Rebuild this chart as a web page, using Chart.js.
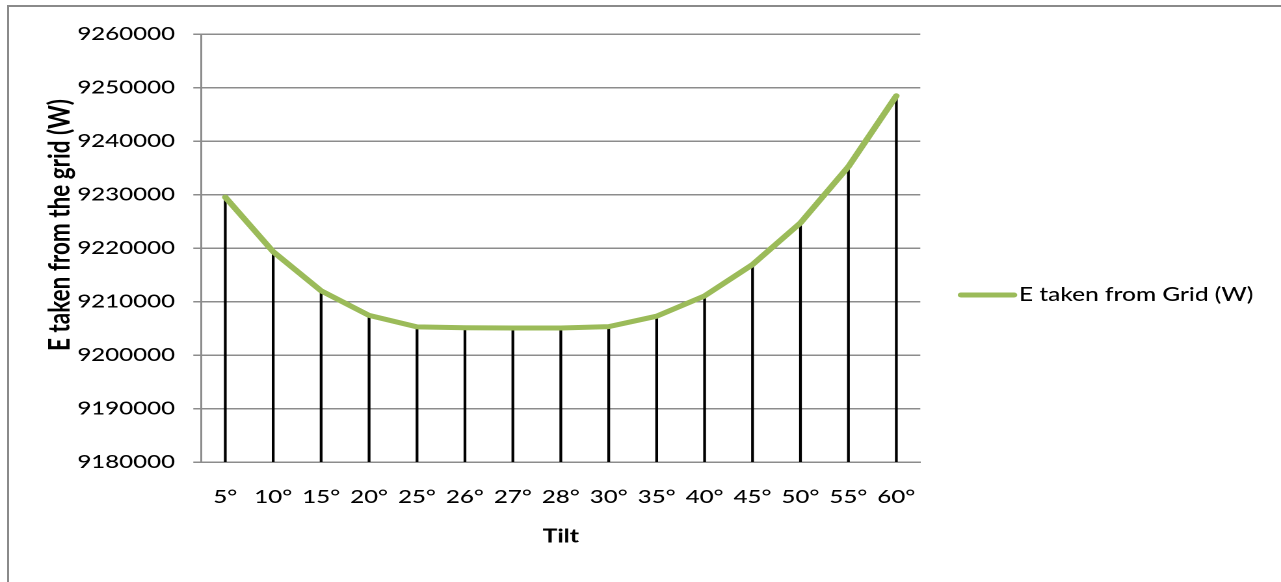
<!DOCTYPE html>
<html>
<head>
<meta charset="utf-8">
<title>E taken from the grid vs tilt</title>
<script src="https://cdn.jsdelivr.net/npm/chart.js@4/dist/chart.umd.min.js"></script>
<style>
  html, body { margin: 0; padding: 0; background: #ffffff; overflow: hidden; }
  #wrap { position: relative; width: 1281px; height: 582px; overflow: hidden; }
  #frame {
    position: absolute; left: 7px; top: 5px; width: 1400px; height: 700px;
    border-left: 2px solid #8a8a8a; border-top: 2px solid #8a8a8a; box-sizing: border-box;
  }
  #c { position: absolute; left: 0; top: 0; transform-origin: 0 0; }
</style>
</head>
<body>
<div id="wrap">
  <div id="frame"></div>
  <canvas id="c"></canvas>
</div>
<script>
// Tilt angles on the category axis
const tiltLabels = ['5°', '10°', '15°', '20°', '25°', '26°', '27°', '28°', '30°', '35°', '40°', '45°', '50°', '55°', '60°'];
// Energy drawn from the grid for each tilt (W)
const gridEnergy = [9229500, 9219300, 9212000, 9207400, 9205250, 9205100, 9205050, 9205050, 9205300, 9207250, 9211050, 9216900, 9224700, 9235200, 9248450];
// Value-axis labels, bottom to top
const yTickLabels = ['9180000', '9190000', '9200000', '9210000', '9220000', '9230000', '9240000', '9250000', '9260000'];
const seriesName = 'E taken from Grid (W)';
const yTitle = 'E taken from the grid (W)';
const xTitle = 'Tilt';

// The drawing is laid out on a narrower canvas and widened horizontally.
const PAGE_W = 1281, PAGE_H = 582;
const SX = 1.3;
const CW = Math.round(PAGE_W / SX);
const sx = PAGE_W / CW;
const px = x => x / sx;            // page x -> canvas x

const AREA_LEFT = px(201.3), AREA_RIGHT = px(920.3);
const AREA_TOP = 34, AREA_BOTTOM = 462;
const GREEN = '#9bbb59';
const GRID = '#8c8c8c';
const FONT = 'Lato, "Open Sans", sans-serif';

// Rotated value-axis title
const yTitlePlugin = {
  id: 'yTitle',
  afterDraw(chart) {
    const ctx = chart.ctx;
    ctx.save();
    ctx.translate(px(60), 225);
    ctx.rotate(-Math.PI / 2);
    ctx.font = 'bold 22.5px ' + FONT;
    ctx.fillStyle = '#000';
    ctx.textAlign = 'center';
    ctx.textBaseline = 'middle';
    ctx.fillText(yTitle, 0, 0);
    ctx.restore();
  }
};

// Single-entry legend to the right of the plot
const legendPlugin = {
  id: 'sideLegend',
  afterDraw(chart) {
    const ctx = chart.ctx;
    const ds = chart.data.datasets[0];
    const y = 295;
    ctx.save();
    ctx.strokeStyle = ds.borderColor;
    ctx.lineWidth = 5;
    ctx.lineCap = 'round';
    ctx.beginPath();
    ctx.moveTo(px(961), y);
    ctx.lineTo(px(1014), y);
    ctx.stroke();
    ctx.font = '500 18.8px ' + FONT;
    ctx.fillStyle = '#000';
    ctx.textAlign = 'left';
    ctx.textBaseline = 'middle';
    ctx.fillText(ds.label, px(1019), y);
    ctx.restore();
  }
};

function draw() {
  const canvas = document.getElementById('c');
  canvas.width = CW;
  canvas.height = PAGE_H;
  canvas.style.width = CW + 'px';
  canvas.style.height = PAGE_H + 'px';
  canvas.style.transform = 'scale(' + sx + ',1)';

  Chart.defaults.font.family = FONT;
  Chart.defaults.color = '#000';

  new Chart(canvas, {
    data: {
      labels: tiltLabels,
      datasets: [
        {
          type: 'line',
          label: seriesName,
          data: gridEnergy,
          borderColor: GREEN,
          backgroundColor: GREEN,
          borderWidth: 5,
          borderCapStyle: 'round',
          borderJoinStyle: 'round',
          pointRadius: 0,
          tension: 0,
          order: 0
        },
        {
          // drop lines from each point to the category axis
          type: 'bar',
          label: 'drop',
          data: gridEnergy,
          backgroundColor: '#000',
          barThickness: 1.5,
          grouped: false,
          order: 1
        }
      ]
    },
    options: {
      responsive: false,
      animation: false,
      devicePixelRatio: 2,
      layout: { padding: { top: AREA_TOP, left: 0, bottom: 0, right: CW - AREA_RIGHT } },
      plugins: { legend: { display: false }, tooltip: { enabled: false } },
      events: [],
      scales: {
        x: {
          type: 'category',
          offset: true,
          grid: { display: false, drawTicks: false, tickLength: 0 },
          border: { display: true, color: GRID, width: 1.5 },
          ticks: { font: { size: 18.5, weight: 500 }, color: '#000', padding: 24, maxRotation: 0, autoSkip: false },
          title: { display: true, text: xTitle, font: { size: 19, weight: 'bold' }, color: '#000', padding: { top: 0, bottom: 34 } },
          afterFit(scale) { scale.height = PAGE_H - AREA_BOTTOM; }
        },
        y: {
          type: 'linear',
          min: 9180000,
          max: 9260000,
          grid: { color: GRID, lineWidth: 1.5, drawTicks: true, tickLength: px(8) },
          border: { display: true, color: GRID, width: 1.5 },
          ticks: {
            stepSize: 10000,
            font: { size: 18.5, weight: 500 },
            color: '#000',
            padding: AREA_LEFT - px(8) - px(175),
            callback: (v, i) => yTickLabels[i]
          },
          afterFit(scale) { scale.width = AREA_LEFT; }
        }
      }
    },
    plugins: [yTitlePlugin, legendPlugin]
  });
}

const fontsReady = document.fonts
  ? Promise.all([
      document.fonts.load('500 18.5px Lato'),
      document.fonts.load('bold 22.5px Lato')
    ]).catch(() => {})
  : Promise.resolve();
fontsReady.then(draw);
</script>
</body>
</html>
